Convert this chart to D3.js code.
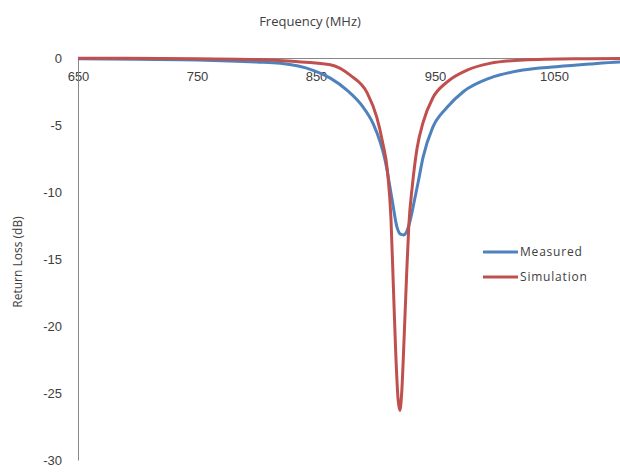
<!DOCTYPE html>
<html>
<head>
<meta charset="utf-8">
<script src="https://cdn.jsdelivr.net/npm/d3@7"></script>
<style>
  body { margin: 0; background: #fff; }
  svg { display: block; font-family: "Open Sans", "Liberation Sans", sans-serif; }
</style>
</head>
<body>
<div id="chart"></div>
<script>
/* Data */
const measuredFreq = [650, 700, 750, 800, 820, 847, 862, 876, 889, 898, 904, 908, 914, 918, 921, 923.5, 926, 928, 930.5, 933, 936, 940, 948, 960, 974, 996, 1024, 1052, 1080, 1105, 1150];
const measuredLoss = [-0.05, -0.1, -0.15, -0.3, -0.4, -0.9, -1.5, -2.4, -3.6, -4.9, -6.3, -7.6, -10.6, -12.6, -13.15, -13.2, -13.0, -12.5, -11.6, -10.5, -9.2, -7.4, -5.2, -3.7, -2.5, -1.5, -0.9, -0.65, -0.45, -0.3, -0.2];

const simFreq = [650, 750, 800, 830, 862, 879, 893, 901, 906, 910, 913, 915, 917, 919, 920.5, 922, 924, 926, 928, 931, 935, 940, 948, 960, 977, 996, 1024, 1080, 1150];
const simLoss = [-0.02, -0.05, -0.12, -0.25, -0.5, -1.3, -2.6, -4.4, -6.3, -8.4, -12, -17, -22, -25.5, -26.3, -25, -21, -16.5, -12.5, -9.5, -6.7, -4.8, -3.0, -1.8, -0.9, -0.4, -0.15, -0.05, 0];

const xTicks = [650, 750, 850, 950, 1050];
const yTicks = [0, -5, -10, -15, -20, -25, -30];

const seriesNames = ["Measured", "Simulation"];
const seriesColors = ["#4F81BD", "#C0504D"];

/* Chart setup */
const width = 620, height = 473;
const svg = d3.select("#chart").append("svg")
    .attr("width", width)
    .attr("height", height);

const x = d3.scaleLinear().domain([650, 1150]).range([78, 673]);
const y = d3.scaleLinear().domain([0, -30]).range([58, 460]);

/* Axes: x axis sits at the top (y = 0) */
const xAxis = svg.append("g")
    .attr("transform", `translate(0,${y(0)})`)
    .call(d3.axisBottom(x).tickValues(xTicks).tickFormat(d3.format("d")).tickSize(0).tickPadding(14));
xAxis.select(".domain").attr("stroke", "#878787");
xAxis.selectAll("text").style("font-size", "13px").attr("fill", "#404040");

const yAxis = svg.append("g")
    .attr("transform", `translate(${x(650)},0)`)
    .call(d3.axisLeft(y).tickValues(yTicks).tickFormat(d => String(d)).tickSize(0).tickPadding(16));
yAxis.select(".domain").attr("stroke", "#878787");
yAxis.selectAll("text").style("font-size", "13px").attr("fill", "#404040");

/* Curves */
const line = d3.line()
    .x(d => x(d[0]))
    .y(d => y(d[1]))
    .curve(d3.curveMonotoneX);

const measured = measuredFreq.map((f, i) => [f, measuredLoss[i]]);
const simulation = simFreq.map((f, i) => [f, simLoss[i]]);

svg.append("path")
    .datum(measured)
    .attr("fill", "none")
    .attr("stroke", seriesColors[0])
    .attr("stroke-width", 3)
    .attr("d", line);

svg.append("path")
    .datum(simulation)
    .attr("fill", "none")
    .attr("stroke", seriesColors[1])
    .attr("stroke-width", 3)
    .attr("d", line);

/* Titles */
svg.append("text")
    .attr("x", 310)
    .attr("y", 26)
    .attr("text-anchor", "middle")
    .style("font-size", "13px")
    .attr("fill", "#404040")
    .text("Frequency (MHz)");

svg.append("text")
    .attr("transform", "rotate(-90)")
    .attr("x", -262)
    .attr("y", 22)
    .attr("text-anchor", "middle")
    .style("font-size", "12px")
    .attr("fill", "#404040")
    .text("Return Loss (dB)");

/* Legend */
const legend = svg.append("g");
seriesNames.forEach((name, i) => {
    const ly = 252 + i * 25;
    legend.append("line")
        .attr("x1", 483).attr("x2", 518)
        .attr("y1", ly).attr("y2", ly)
        .attr("stroke", seriesColors[i])
        .attr("stroke-width", 3);
    legend.append("text")
        .attr("x", 520)
        .attr("y", ly + 4)
        .style("font-size", "12px")
        .style("letter-spacing", "0.8px")
        .attr("fill", "#404040")
        .text(name);
});
</script>
</body>
</html>
